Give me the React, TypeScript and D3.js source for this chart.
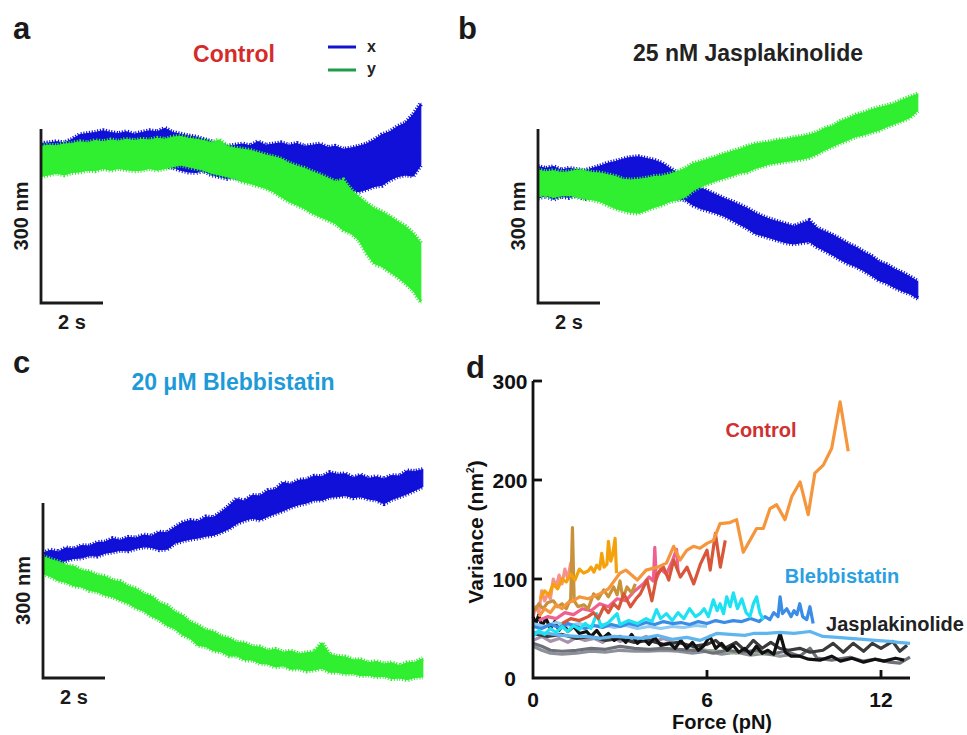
import React from 'react';
import * as d3 from 'd3';

const W = 967;
const H = 735;
const FONT = '"Liberation Sans", Arial, Helvetica, sans-serif';

// panels a-c: bead position traces, one sample every 0.25 s, values in nm
const SAMPLE_DT = 0.25;

const ctrlXHi = [275, 276, 278, 276, 282, 290, 292, 294, 297, 294, 292, 295, 291, 294, 297, 295, 301, 294, 291, 288, 286, 282, 278, 274, 270, 272, 274, 271, 278, 272, 274, 276, 272, 275, 270, 272, 274, 268, 270, 265, 267, 270, 274, 281, 290, 295, 304, 310, 324, 343];
const ctrlXLo = [238, 236, 240, 237, 241, 238, 242, 240, 243, 240, 244, 241, 243, 240, 242, 238, 236, 234, 229, 226, 225, 228, 221, 218, 215, 217, 213, 215, 212, 209, 212, 208, 205, 209, 203, 201, 203, 198, 195, 197, 194, 192, 196, 201, 203, 212, 218, 221, 219, 238];
const ctrlYHi = [270, 272, 271, 274, 275, 278, 276, 280, 278, 281, 279, 282, 280, 282, 281, 284, 282, 286, 287, 284, 282, 280, 276, 281, 270, 267, 265, 263, 259, 255, 252, 248, 241, 236, 232, 226, 221, 215, 209, 212, 195, 183, 172, 163, 157, 149, 140, 132, 120, 103];
const ctrlYLo = [218, 221, 224, 221, 225, 226, 229, 228, 232, 229, 232, 230, 228, 229, 232, 229, 232, 235, 238, 235, 232, 229, 224, 221, 218, 215, 209, 206, 202, 198, 192, 183, 175, 169, 163, 155, 149, 143, 137, 126, 120, 109, 86, 68, 63, 54, 45, 34, 22, 2];

const jaspXHi = [235, 232, 235, 229, 232, 230, 228, 232, 236, 241, 244, 248, 251, 252, 249, 246, 241, 232, 224, 215, 203, 198, 192, 186, 180, 175, 169, 163, 155, 149, 144, 140, 136, 132, 137, 142, 129, 123, 117, 110, 102, 96, 88, 81, 71, 66, 58, 52, 45, 37];
const jaspXLo = [181, 185, 179, 184, 182, 186, 180, 184, 190, 188, 191, 189, 192, 190, 188, 191, 189, 183, 180, 178, 169, 163, 159, 155, 150, 143, 136, 129, 120, 116, 112, 108, 104, 102, 104, 106, 97, 90, 83, 75, 68, 63, 56, 48, 39, 34, 27, 21, 16, 8];
const jaspYHi = [229, 226, 228, 225, 226, 229, 228, 225, 224, 221, 218, 213, 212, 213, 215, 218, 219, 222, 226, 232, 240, 244, 248, 252, 257, 261, 265, 270, 274, 276, 278, 281, 282, 285, 287, 290, 294, 301, 305, 313, 318, 324, 328, 333, 337, 340, 344, 350, 355, 360];
const jaspYLo = [183, 186, 182, 185, 186, 183, 180, 178, 175, 169, 163, 159, 156, 155, 160, 165, 169, 175, 178, 183, 194, 201, 206, 211, 215, 219, 224, 226, 232, 236, 240, 242, 244, 246, 248, 251, 257, 264, 270, 276, 281, 287, 290, 294, 298, 304, 309, 314, 320, 332];

const blebXHi = [214, 219, 216, 223, 221, 227, 226, 232, 233, 239, 236, 241, 240, 245, 243, 250, 249, 258, 266, 270, 268, 276, 275, 284, 295, 307, 303, 313, 312, 321, 323, 335, 332, 339, 340, 346, 345, 352, 349, 350, 343, 348, 342, 345, 341, 347, 346, 355, 354, 357];
const blebXLo = [197, 199, 196, 202, 205, 206, 210, 209, 214, 216, 219, 218, 222, 225, 224, 220, 221, 231, 235, 238, 240, 243, 245, 250, 256, 265, 270, 274, 271, 277, 282, 287, 293, 297, 300, 305, 305, 310, 311, 313, 309, 311, 307, 305, 299, 306, 311, 316, 322, 328];
const blebYHi = [208, 203, 199, 193, 191, 184, 182, 176, 174, 167, 165, 157, 153, 144, 140, 129, 124, 113, 107, 96, 90, 82, 79, 71, 68, 61, 60, 54, 53, 47, 49, 44, 46, 41, 43, 45, 60, 40, 37, 36, 31, 31, 26, 28, 24, 26, 21, 26, 27, 33];
const blebYLo = [179, 174, 167, 164, 158, 156, 150, 148, 142, 139, 133, 128, 120, 115, 106, 100, 90, 85, 74, 68, 56, 54, 47, 45, 38, 38, 31, 31, 25, 24, 19, 21, 15, 16, 12, 14, 17, 10, 10, 7, 8, 4, 5, 2, 3, -1, 0, -3, 1, 2];

// panel d: variance (nm^2) vs force (pN)
const forceTicks = [0, 6, 12];
const varianceTicks = [0, 100, 200, 300];

const ctlOrange: [number, number][] = [[0.2, 62], [0.4, 70], [0.6, 66], [0.8, 74], [1.0, 70], [1.2, 76], [1.4, 78], [1.6, 82], [1.9, 80], [2.3, 85], [2.6, 90], [3.0, 106], [3.2, 109], [3.6, 99], [3.9, 109], [4.3, 112], [4.6, 116], [4.85, 133], [5.07, 119], [5.3, 129], [5.53, 133], [5.76, 131], [6.0, 136], [6.22, 139], [6.45, 156], [6.79, 157], [7.02, 160], [7.25, 127], [7.5, 140], [7.71, 151], [7.94, 151], [8.17, 171], [8.4, 175], [8.69, 160], [8.92, 183], [9.21, 198], [9.49, 165], [9.72, 207], [10.01, 215], [10.3, 232], [10.59, 279], [10.87, 229]];
const ctlAmber: [number, number][] = [[0.25, 80], [0.4, 88], [0.55, 84], [0.7, 95], [0.85, 90], [1.0, 100], [1.15, 97], [1.3, 105], [1.45, 99], [1.6, 110], [1.75, 106], [1.9, 108], [2.0, 112], [2.1, 107], [2.2, 114], [2.3, 110], [2.37, 126], [2.45, 112], [2.55, 115], [2.6, 138], [2.68, 118], [2.75, 125], [2.83, 141], [2.88, 106]];
const ctlTan: [number, number][] = [[0.05, 68], [0.2, 75], [0.35, 70], [0.5, 76], [0.7, 78], [0.85, 72], [1.0, 75], [1.15, 70], [1.3, 80], [1.36, 152], [1.42, 78], [1.55, 72], [1.75, 74], [1.9, 70], [2.09, 85], [2.25, 80], [2.44, 89], [2.6, 82], [2.78, 92], [2.9, 84], [3.0, 98], [3.1, 80], [3.24, 92], [3.4, 86], [3.53, 95]];
const ctlSalmon: [number, number][] = [[0.0, 62], [0.1, 72], [0.2, 66], [0.3, 88], [0.4, 78], [0.5, 85], [0.6, 80], [0.7, 100], [0.8, 92], [0.9, 104], [1.0, 95], [1.1, 110], [1.2, 100], [1.3, 116], [1.4, 88]];
const ctlPink: [number, number][] = [[0.2, 58], [0.5, 62], [0.8, 60], [1.1, 66], [1.4, 64], [1.7, 70], [2.0, 68], [2.3, 75], [2.6, 72], [2.9, 80], [3.2, 78], [3.5, 88], [3.8, 95], [4.0, 102], [4.15, 98], [4.2, 132], [4.25, 100], [4.4, 110], [4.6, 105], [4.8, 118], [4.95, 130], [5.0, 108]];
const ctlRed: [number, number][] = [[1.0, 55], [1.3, 60], [1.6, 58], [1.9, 62], [2.09, 66], [2.25, 60], [2.44, 72], [2.6, 66], [2.78, 75], [2.95, 70], [3.13, 85], [3.36, 72], [3.55, 80], [3.7, 85], [3.93, 99], [4.1, 78], [4.28, 105], [4.5, 112], [4.68, 99], [4.85, 119], [5.08, 102], [5.31, 112], [5.54, 95], [5.77, 115], [6.0, 129], [6.11, 109], [6.29, 146], [6.46, 112], [6.63, 139]];

const blebCyan: [number, number][] = [[0.0, 42], [0.2, 48], [0.4, 44], [0.6, 50], [0.8, 46], [1.0, 52], [1.2, 47], [1.4, 53], [1.6, 49], [1.8, 55], [2.0, 50], [2.2, 65], [2.35, 52], [2.6, 56], [2.9, 65], [3.0, 54], [3.3, 58], [3.6, 55], [3.9, 60], [4.1, 57], [4.26, 69], [4.4, 60], [4.6, 65], [4.8, 58], [5.0, 66], [5.2, 60], [5.4, 70], [5.6, 62], [5.76, 65], [5.9, 70], [6.05, 62], [6.22, 79], [6.35, 68], [6.45, 75], [6.57, 65], [6.68, 82], [6.8, 72], [6.91, 86], [7.05, 70], [7.2, 80], [7.35, 66], [7.48, 62], [7.6, 75], [7.71, 82], [7.82, 66], [7.94, 59]];
const blebBlue: [number, number][] = [[0.0, 52], [0.3, 50], [0.6, 54], [0.9, 51], [1.2, 55], [1.5, 52], [1.8, 50], [2.1, 53], [2.4, 51], [2.7, 54], [3.0, 52], [3.3, 55], [3.6, 53], [3.9, 56], [4.2, 54], [4.5, 57], [4.8, 55], [5.1, 56], [5.4, 54], [5.7, 57], [6.0, 55], [6.3, 58], [6.6, 56], [6.9, 58], [7.2, 57], [7.5, 60], [7.8, 57], [8.0, 62], [8.17, 59], [8.3, 66], [8.45, 62], [8.52, 82], [8.6, 65], [8.75, 70], [8.9, 62], [9.0, 68], [9.1, 64], [9.2, 75], [9.3, 62], [9.44, 59], [9.55, 72], [9.66, 55]];
const blebLight: [number, number][] = [[0.0, 46], [0.5, 45], [1.0, 43], [1.5, 42], [1.85, 42], [2.3, 40], [2.8, 42], [3.3, 41], [3.8, 40], [4.3, 43], [4.8, 39], [5.3, 41], [5.76, 38], [6.0, 41], [6.33, 45], [6.8, 44], [7.3, 43], [7.6, 45], [8.06, 45], [8.5, 46], [9.0, 45], [9.55, 47], [10.0, 42], [10.5, 41], [10.93, 40], [11.4, 39], [11.8, 38], [12.3, 37], [12.6, 36], [13.0, 35]];
const blebPale: [number, number][] = [[0.0, 55], [0.4, 52], [0.8, 56], [1.2, 53], [1.6, 55], [2.0, 52], [2.4, 54], [2.8, 51], [3.2, 53], [3.6, 50], [4.0, 52], [4.4, 50], [4.8, 52], [5.2, 51], [5.6, 53], [6.0, 52]];

const jasBlack: [number, number][] = [[0.0, 62], [0.1, 55], [0.2, 64], [0.3, 52], [0.45, 60], [0.6, 50], [0.75, 57], [0.9, 48], [1.05, 55], [1.2, 47], [1.4, 52], [1.6, 45], [1.85, 47], [2.0, 42], [2.2, 48], [2.4, 40], [2.6, 45], [2.8, 38], [3.0, 42], [3.2, 36], [3.4, 44], [3.6, 35], [3.8, 40], [4.0, 34], [4.2, 41], [4.4, 33], [4.72, 35], [4.9, 30], [5.1, 38], [5.3, 30], [5.5, 36], [5.7, 28], [5.87, 32], [6.1, 42], [6.3, 30], [6.5, 35], [6.7, 28], [6.9, 33], [7.1, 26], [7.3, 30], [7.5, 24], [7.7, 32], [7.9, 25], [8.1, 28], [8.3, 24], [8.52, 45], [8.7, 26], [8.9, 22], [9.2, 22], [9.5, 19], [9.9, 18], [10.3, 22], [10.6, 17], [11.0, 20], [11.4, 16], [11.8, 19], [12.1, 17], [12.5, 20], [12.8, 18]];
const jasDark: [number, number][] = [[0.0, 45], [0.5, 42], [1.0, 44], [1.5, 40], [2.0, 42], [2.5, 38], [3.0, 40], [3.5, 36], [4.0, 38], [4.5, 34], [5.0, 36], [5.5, 32], [6.0, 34], [6.3, 38], [6.6, 30], [7.0, 36], [7.3, 28], [7.6, 38], [7.9, 30], [8.2, 36], [8.5, 30], [8.8, 28], [9.2, 30], [9.55, 26], [10.0, 28], [10.35, 35], [10.7, 26], [11.04, 35], [11.4, 27], [11.7, 35], [12.0, 30], [12.4, 37], [12.65, 27], [12.9, 33]];
const jasGrey: [number, number][] = [[0.0, 35], [0.3, 32], [0.6, 28], [1.0, 27], [1.5, 28], [2.0, 30], [2.5, 29], [3.0, 32], [3.5, 30], [4.0, 29], [4.5, 30], [5.0, 29], [5.5, 28], [5.76, 28], [6.2, 25], [6.7, 28], [7.2, 26], [7.7, 28], [8.2, 24], [8.7, 27], [9.2, 22], [9.55, 30], [9.8, 20], [10.3, 18], [10.93, 21], [11.4, 17], [11.8, 19], [12.3, 16], [12.65, 15], [13.0, 21]];
const jasGrey2: [number, number][] = [[0.0, 32], [0.3, 28], [0.6, 25], [1.0, 24], [1.5, 25], [2.0, 27], [2.5, 26], [3.0, 28], [3.5, 27], [4.0, 27], [4.5, 28], [5.0, 27], [5.5, 25], [6.0, 27], [6.5, 24], [7.0, 26], [7.5, 23], [8.0, 25], [8.5, 22], [9.0, 24]];
const jasMauve: [number, number][] = [[0.0, 38], [0.3, 42], [0.6, 37], [0.9, 40], [1.2, 36], [1.5, 41], [1.8, 38], [2.1, 40], [2.4, 36], [2.7, 42], [3.0, 37], [3.3, 40], [3.6, 38], [3.9, 42], [4.2, 37], [4.5, 40], [4.8, 36]];
const jasSage: [number, number][] = [[5.5, 30], [6.0, 28], [6.5, 27], [7.0, 25], [7.5, 27], [8.0, 24], [8.5, 23]];

const BLUE = '#1010d8';
const GREEN = '#30ee30';

const dTraces = [
  { pts: jasGrey2, color: '#8c9098' },
  { pts: jasMauve, color: '#a592ab' },
  { pts: jasSage, color: '#9aab92' },
  { pts: jasGrey, color: '#6e7179' },
  { pts: jasDark, color: '#3a3a3a' },
  { pts: jasBlack, color: '#111111' },
  { pts: blebPale, color: '#8fcbf0' },
  { pts: blebLight, color: '#5fb6ee' },
  { pts: blebBlue, color: '#3a8ce6' },
  { pts: blebCyan, color: '#1ee2f2' },
  { pts: ctlPink, color: '#ef5f8f' },
  { pts: ctlSalmon, color: '#f7928a' },
  { pts: ctlTan, color: '#c8913a' },
  { pts: ctlRed, color: '#d8573b' },
  { pts: ctlAmber, color: '#f5a10c' },
  { pts: ctlOrange, color: '#f5953c' },
];

type Band = { hi: number[]; lo: number[]; color: string };

function TracePanel({ axisX, barTop, barBottom, bands }: { axisX: number; barTop: number; barBottom: number; bands: Band[] }) {
  const x = d3.scaleLinear().domain([0, 2]).range([axisX, axisX + 62]);
  const y = d3.scaleLinear().domain([0, 300]).range([barBottom, barTop]);
  const area = (b: Band) =>
    d3.area<number>()
      .x((_, i) => x(i * SAMPLE_DT))
      .y0((_, i) => y(b.lo[i]))
      .y1((d) => y(d))(b.hi) || '';
  const edge = (vals: number[]) =>
    d3.line<number>().x((_, i) => x(i * SAMPLE_DT)).y((d) => y(d))(vals) || '';
  return (
    <g>
      {bands.map((b, i) => (
        <g key={i}>
          <path d={area(b)} fill={b.color} stroke={b.color} strokeWidth={1.2} />
          {/* ragged edges so the band reads as a noisy trace */}
          <path d={edge(b.hi)} fill="none" stroke={b.color} strokeWidth={5} strokeDasharray="1.2 1.6" />
          <path d={edge(b.lo)} fill="none" stroke={b.color} strokeWidth={5} strokeDasharray="1 1.9" />
        </g>
      ))}
      <path
        d={`M${x(0)},${y(300)}V${y(0)}H${x(2)}`}
        fill="none" stroke="#1a1a1a" strokeWidth={2.8}
      />
      <text x={x(1)} y={barBottom + 26} textAnchor="middle" fontSize={20} fontWeight="bold" fill="#1a1a1a">2 s</text>
      <text
        transform={`translate(${axisX - 13},${y(150)}) rotate(-90)`}
        textAnchor="middle" fontSize={20} fontWeight="bold" fill="#1a1a1a"
      >300 nm</text>
    </g>
  );
}

function VariancePanel() {
  const x = d3.scaleLinear().domain([0, 13]).range([533, 910]);
  const y = d3.scaleLinear().domain([0, 300]).range([678, 381]);
  const line = d3.line<[number, number]>().x((d) => x(d[0])).y((d) => y(d[1]));
  return (
    <g>
      {dTraces.map((t, i) => (
        <path key={i} d={line(t.pts) || ''} fill="none" stroke={t.color} strokeWidth={3.2} strokeLinejoin="round" />
      ))}
      <path d={`M${x(0)},${y(300)}V${y(0)}H${x(13)}`} fill="none" stroke="#111" strokeWidth={2.8} />
      {varianceTicks.map((v) => (
        <g key={v}>
          {v > 0 && <line x1={x(0)} x2={x(0) + 9} y1={y(v)} y2={y(v)} stroke="#111" strokeWidth={2.8} />}
          <text x={510} y={y(v)} dy="0.36em" textAnchor="middle" fontSize={21} fontWeight="bold" fill="#111">{v}</text>
        </g>
      ))}
      {forceTicks.map((f) => (
        <g key={f}>
          {f > 0 && <line x1={x(f)} x2={x(f)} y1={y(0)} y2={y(0) - 8} stroke="#111" strokeWidth={2.8} />}
          <text x={x(f)} y={707} textAnchor="middle" fontSize={21} fontWeight="bold" fill="#111">{f}</text>
        </g>
      ))}
      <text x={722} y={729} textAnchor="middle" fontSize={20} fontWeight="bold" fill="#111">Force (pN)</text>
      <text transform="translate(483,532) rotate(-90)" textAnchor="middle" fontSize={21} fontWeight="bold" fill="#111">
        Variance (nm<tspan dy={-9} fontSize={10}>2</tspan><tspan dy={9}>)</tspan>
      </text>
      <text x={761} y={437} textAnchor="middle" fontSize={20} fontWeight="bold" fill="#cf3131">Control</text>
      <text x={842} y={583} textAnchor="middle" fontSize={20} fontWeight="bold" fill="#2c9fe2">Blebbistatin</text>
      <text x={895} y={631} textAnchor="middle" fontSize={20} fontWeight="bold" fill="#222">Jasplakinolide</text>
    </g>
  );
}

export default function App() {
  return (
    <svg width={W} height={H} style={{ position: 'absolute', left: 0, top: 0, background: '#fff' }} fontFamily={FONT}>
      <rect width={W} height={H} fill="#fff" />

      <text x={13} y={39} fontSize={31} fontWeight="bold" fill="#1a1a1a">a</text>
      <text x={458} y={39} fontSize={31} fontWeight="bold" fill="#1a1a1a">b</text>
      <text x={13} y={373} fontSize={31} fontWeight="bold" fill="#1a1a1a">c</text>
      <text x={466} y={378} fontSize={31} fontWeight="bold" fill="#1a1a1a">d</text>

      <text x={234} y={62} textAnchor="middle" fontSize={23} fontWeight="bold" fill="#d42b2b">Control</text>
      <line x1={328} x2={356} y1={47} y2={47} stroke="#1414d0" strokeWidth={3} />
      <line x1={328} x2={356} y1={70} y2={70} stroke="#1f9c48" strokeWidth={3} />
      <text x={367} y={52} fontSize={16} fontWeight="bold" fill="#222">x</text>
      <text x={367} y={74} fontSize={16} fontWeight="bold" fill="#222">y</text>
      <TracePanel axisX={41} barTop={129} barBottom={303} bands={[
        { hi: ctrlXHi, lo: ctrlXLo, color: BLUE },
        { hi: ctrlYHi, lo: ctrlYLo, color: GREEN },
      ]} />

      <text x={748} y={61} textAnchor="middle" fontSize={23} fontWeight="bold" fill="#222">25 nM Jasplakinolide</text>
      <TracePanel axisX={538} barTop={129} barBottom={303} bands={[
        { hi: jaspXHi, lo: jaspXLo, color: BLUE },
        { hi: jaspYHi, lo: jaspYLo, color: GREEN },
      ]} />

      <text x={233} y={390} textAnchor="middle" fontSize={23} fontWeight="bold" fill="#1e9ad8">20 μM Blebbistatin</text>
      <TracePanel axisX={43} barTop={503} barBottom={678} bands={[
        { hi: blebXHi, lo: blebXLo, color: BLUE },
        { hi: blebYHi, lo: blebYLo, color: GREEN },
      ]} />

      <VariancePanel />
    </svg>
  );
}
